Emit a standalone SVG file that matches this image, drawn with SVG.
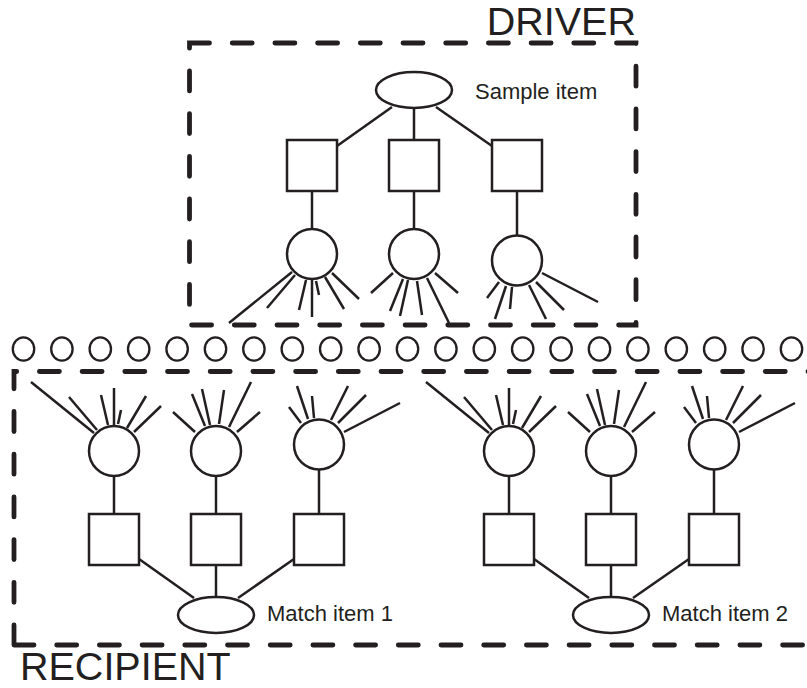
<svg xmlns="http://www.w3.org/2000/svg" width="807" height="688" viewBox="0 0 807 688">
<style>
.bg{fill:#ffffff}
.box{fill:none;stroke:#231f20;stroke-width:4.8;stroke-dasharray:20 22.7;stroke-linecap:round}
.nd{fill:#ffffff;stroke:#231f20;stroke-width:2.5}
.sm{fill:#ffffff;stroke:#231f20;stroke-width:2.3}
.ln{stroke:#231f20;stroke-width:2.5;fill:none}
.big{font-family:"Liberation Sans",Arial,Helvetica,sans-serif;font-size:39.5px;fill:#231f20}
.lbl{font-family:"Liberation Sans",Arial,Helvetica,sans-serif;font-size:22px;fill:#231f20}
</style>
<rect class="bg" x="0" y="0" width="807" height="688"/>

<!-- frames -->
<g id="frames">
<rect id="driver-box" class="box" x="189.5" y="43" width="446.5" height="282"/>
<path id="recipient-box" class="box" d="M 14 645 V 371.5 H 830 M 14 645 H 830"/>
</g>

<!-- connectors -->
<g id="connectors" class="ln">
 <g id="conn-driver">
  <line x1="392" y1="107" x2="337" y2="146"/>
  <line x1="414" y1="108" x2="414" y2="140"/>
  <line x1="436" y1="107" x2="492" y2="146"/>
  <line x1="312" y1="191" x2="312" y2="229"/>
  <line x1="414" y1="191" x2="414" y2="229"/>
  <line x1="517" y1="191" x2="517" y2="235.5"/>
  <line x1="292" y1="272" x2="229" y2="323"/>
  <line x1="295" y1="275" x2="267" y2="308"/>
  <line x1="306" y1="280" x2="299" y2="310"/>
  <line x1="312" y1="280" x2="312" y2="317"/>
  <line x1="316" y1="281" x2="319" y2="295"/>
  <line x1="325" y1="277" x2="344" y2="309"/>
  <line x1="332" y1="273" x2="359" y2="299"/>
  <line x1="393" y1="273" x2="371" y2="293"/>
  <line x1="403" y1="279" x2="390" y2="311"/>
  <line x1="408" y1="280" x2="400" y2="316"/>
  <line x1="417" y1="281" x2="422" y2="315"/>
  <line x1="427" y1="278" x2="449" y2="323"/>
  <line x1="435" y1="273" x2="458" y2="293"/>
  <line x1="499" y1="282" x2="487" y2="298"/>
  <line x1="506" y1="286" x2="495" y2="319"/>
  <line x1="512" y1="287" x2="510" y2="309"/>
  <line x1="529" y1="285" x2="546" y2="319"/>
  <line x1="536" y1="282" x2="564" y2="310"/>
  <line x1="542" y1="273" x2="598" y2="302"/>
 </g>
 <g id="conn-match1" transform="matrix(1 0 0 -1 -198 705)">
  <line x1="392" y1="107" x2="337" y2="146"/>
  <line x1="414" y1="108" x2="414" y2="140"/>
  <line x1="436" y1="107" x2="492" y2="146"/>
  <line x1="312" y1="191" x2="312" y2="229"/>
  <line x1="414" y1="191" x2="414" y2="229"/>
  <line x1="517" y1="191" x2="517" y2="235.5"/>
  <line x1="292" y1="272" x2="229" y2="323"/>
  <line x1="295" y1="275" x2="267" y2="308"/>
  <line x1="306" y1="280" x2="299" y2="310"/>
  <line x1="312" y1="280" x2="312" y2="317"/>
  <line x1="316" y1="281" x2="319" y2="295"/>
  <line x1="325" y1="277" x2="344" y2="309"/>
  <line x1="332" y1="273" x2="359" y2="299"/>
  <line x1="393" y1="273" x2="371" y2="293"/>
  <line x1="403" y1="279" x2="390" y2="311"/>
  <line x1="408" y1="280" x2="400" y2="316"/>
  <line x1="417" y1="281" x2="422" y2="315"/>
  <line x1="427" y1="278" x2="449" y2="323"/>
  <line x1="435" y1="273" x2="458" y2="293"/>
  <line x1="499" y1="282" x2="487" y2="298"/>
  <line x1="506" y1="286" x2="495" y2="319"/>
  <line x1="512" y1="287" x2="510" y2="309"/>
  <line x1="529" y1="285" x2="546" y2="319"/>
  <line x1="536" y1="282" x2="564" y2="310"/>
  <line x1="542" y1="273" x2="598" y2="302"/>
 </g>
 <g id="conn-match2" transform="matrix(1 0 0 -1 197 705)">
  <line x1="392" y1="107" x2="337" y2="146"/>
  <line x1="414" y1="108" x2="414" y2="140"/>
  <line x1="436" y1="107" x2="492" y2="146"/>
  <line x1="312" y1="191" x2="312" y2="229"/>
  <line x1="414" y1="191" x2="414" y2="229"/>
  <line x1="517" y1="191" x2="517" y2="235.5"/>
  <line x1="292" y1="272" x2="229" y2="323"/>
  <line x1="295" y1="275" x2="267" y2="308"/>
  <line x1="306" y1="280" x2="299" y2="310"/>
  <line x1="312" y1="280" x2="312" y2="317"/>
  <line x1="316" y1="281" x2="319" y2="295"/>
  <line x1="325" y1="277" x2="344" y2="309"/>
  <line x1="332" y1="273" x2="359" y2="299"/>
  <line x1="393" y1="273" x2="371" y2="293"/>
  <line x1="403" y1="279" x2="390" y2="311"/>
  <line x1="408" y1="280" x2="400" y2="316"/>
  <line x1="417" y1="281" x2="422" y2="315"/>
  <line x1="427" y1="278" x2="449" y2="323"/>
  <line x1="435" y1="273" x2="458" y2="293"/>
  <line x1="499" y1="282" x2="487" y2="298"/>
  <line x1="506" y1="286" x2="495" y2="319"/>
  <line x1="512" y1="287" x2="510" y2="309"/>
  <line x1="529" y1="285" x2="546" y2="319"/>
  <line x1="536" y1="282" x2="564" y2="310"/>
  <line x1="542" y1="273" x2="598" y2="302"/>
 </g>
</g>

<!-- driver nodes -->
<g id="driver">
 <g id="sample-item"><ellipse class="nd" cx="414" cy="90" rx="38" ry="18"/></g>
 <g id="d-rel1"><rect class="nd" x="287" y="140" width="50" height="51"/></g>
 <g id="d-rel2"><rect class="nd" x="389" y="140" width="50" height="51"/></g>
 <g id="d-rel3"><rect class="nd" x="492" y="140" width="50" height="51"/></g>
 <g id="d-obj1"><circle class="nd" cx="312" cy="254" r="25"/></g>
 <g id="d-obj2"><circle class="nd" cx="414" cy="254" r="25"/></g>
 <g id="d-obj3"><circle class="nd" cx="517" cy="260.5" r="25"/></g>
</g>

<!-- match item 1 nodes -->
<g id="match1" transform="matrix(1 0 0 -1 -198 705)">
 <g id="match-item-1"><ellipse class="nd" cx="414" cy="90" rx="38" ry="18"/></g>
 <g id="m1-rel1"><rect class="nd" x="287" y="140" width="50" height="51"/></g>
 <g id="m1-rel2"><rect class="nd" x="389" y="140" width="50" height="51"/></g>
 <g id="m1-rel3"><rect class="nd" x="492" y="140" width="50" height="51"/></g>
 <g id="m1-obj1"><circle class="nd" cx="312" cy="254" r="25"/></g>
 <g id="m1-obj2"><circle class="nd" cx="414" cy="254" r="25"/></g>
 <g id="m1-obj3"><circle class="nd" cx="517" cy="260.5" r="25"/></g>
</g>

<!-- match item 2 nodes -->
<g id="match2" transform="matrix(1 0 0 -1 197 705)">
 <g id="match-item-2"><ellipse class="nd" cx="414" cy="90" rx="38" ry="18"/></g>
 <g id="m2-rel1"><rect class="nd" x="287" y="140" width="50" height="51"/></g>
 <g id="m2-rel2"><rect class="nd" x="389" y="140" width="50" height="51"/></g>
 <g id="m2-rel3"><rect class="nd" x="492" y="140" width="50" height="51"/></g>
 <g id="m2-obj1"><circle class="nd" cx="312" cy="254" r="25"/></g>
 <g id="m2-obj2"><circle class="nd" cx="414" cy="254" r="25"/></g>
 <g id="m2-obj3"><circle class="nd" cx="517" cy="260.5" r="25"/></g>
</g>

<!-- semantic units row -->
<g id="units">
 <g id="u1"><ellipse class="sm" cx="23.5" cy="349" rx="10.7" ry="11.7"/></g>
 <g id="u2"><ellipse class="sm" cx="61.9" cy="349" rx="10.7" ry="11.7"/></g>
 <g id="u3"><ellipse class="sm" cx="100.3" cy="349" rx="10.7" ry="11.7"/></g>
 <g id="u4"><ellipse class="sm" cx="138.7" cy="349" rx="10.7" ry="11.7"/></g>
 <g id="u5"><ellipse class="sm" cx="177.1" cy="349" rx="10.7" ry="11.7"/></g>
 <g id="u6"><ellipse class="sm" cx="215.5" cy="349" rx="10.7" ry="11.7"/></g>
 <g id="u7"><ellipse class="sm" cx="253.9" cy="349" rx="10.7" ry="11.7"/></g>
 <g id="u8"><ellipse class="sm" cx="292.3" cy="349" rx="10.7" ry="11.7"/></g>
 <g id="u9"><ellipse class="sm" cx="330.7" cy="349" rx="10.7" ry="11.7"/></g>
 <g id="u10"><ellipse class="sm" cx="369.1" cy="349" rx="10.7" ry="11.7"/></g>
 <g id="u11"><ellipse class="sm" cx="407.5" cy="349" rx="10.7" ry="11.7"/></g>
 <g id="u12"><ellipse class="sm" cx="445.9" cy="349" rx="10.7" ry="11.7"/></g>
 <g id="u13"><ellipse class="sm" cx="484.3" cy="349" rx="10.7" ry="11.7"/></g>
 <g id="u14"><ellipse class="sm" cx="522.7" cy="349" rx="10.7" ry="11.7"/></g>
 <g id="u15"><ellipse class="sm" cx="561.1" cy="349" rx="10.7" ry="11.7"/></g>
 <g id="u16"><ellipse class="sm" cx="599.5" cy="349" rx="10.7" ry="11.7"/></g>
 <g id="u17"><ellipse class="sm" cx="637.9" cy="349" rx="10.7" ry="11.7"/></g>
 <g id="u18"><ellipse class="sm" cx="676.3" cy="349" rx="10.7" ry="11.7"/></g>
 <g id="u19"><ellipse class="sm" cx="714.7" cy="349" rx="10.7" ry="11.7"/></g>
 <g id="u20"><ellipse class="sm" cx="753.1" cy="349" rx="10.7" ry="11.7"/></g>
 <g id="u21"><ellipse class="sm" cx="791.5" cy="349" rx="10.7" ry="11.7"/></g>
</g>

<!-- labels -->
<g id="labels">
 <text class="big" x="636" y="35" text-anchor="end">DRIVER</text>
 <text class="lbl" x="475" y="99">Sample item</text>
 <text class="lbl" x="267" y="621">Match item 1</text>
 <text class="lbl" x="662" y="621">Match item 2</text>
 <text class="big" x="20" y="679.5">RECIPIENT</text>
</g>
</svg>
